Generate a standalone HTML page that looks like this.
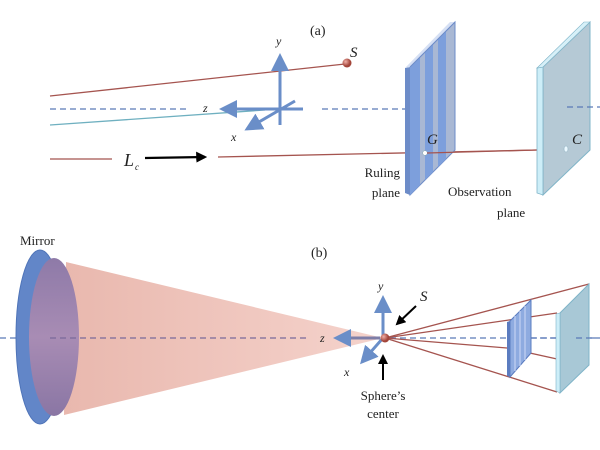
<!DOCTYPE html>
<html><head><meta charset="utf-8"><style>
html,body{margin:0;padding:0;background:#fff}
svg{display:block}
text{font-family:"Liberation Serif",serif;fill:#222}
</style></head><body>
<svg width="600" height="450" viewBox="0 0 600 450" xmlns="http://www.w3.org/2000/svg">
<defs>
<marker id="ba" markerWidth="6" markerHeight="6" refX="5" refY="3" orient="auto" markerUnits="strokeWidth"><path d="M0,0 L6,3 L0,6 Z" fill="#6a8ec8"/></marker>
<marker id="ka" markerWidth="5" markerHeight="5" refX="4" refY="2.5" orient="auto" markerUnits="strokeWidth"><path d="M0,0 L5,2.5 L0,5 Z" fill="#000"/></marker>
<linearGradient id="cone" x1="0" x2="1"><stop offset="0" stop-color="#e9b8ae"/><stop offset="1" stop-color="#f5d3cc"/></linearGradient>
<linearGradient id="inner" x1="0" y1="0" x2="0" y2="1"><stop offset="0" stop-color="#8e7aa8"/><stop offset="0.5" stop-color="#a88cb4"/><stop offset="1" stop-color="#8a76a4"/></linearGradient>
<radialGradient id="sph" cx="0.35" cy="0.35"><stop offset="0" stop-color="#f0b0a8"/><stop offset="1" stop-color="#a3453a"/></radialGradient>
</defs>
<!-- (a) -->
<text x="310" y="35" font-size="14">(a)</text>
<line x1="50" y1="96" x2="345" y2="64" stroke="#a5544f" stroke-width="1.3"/>
<circle cx="347" cy="63" r="4.5" fill="url(#sph)"/>
<text x="350" y="57" font-size="15" font-style="italic">S</text>
<line x1="50" y1="109" x2="187" y2="109" stroke="#5a7ab8" stroke-width="1.3" stroke-dasharray="6,4"/>
<line x1="322" y1="109" x2="405" y2="109" stroke="#5a7ab8" stroke-width="1.3" stroke-dasharray="6,4"/>
<line x1="50" y1="125" x2="265" y2="110" stroke="#6fb0c0" stroke-width="1.3"/>
<line x1="280" y1="125" x2="280" y2="56" stroke="#6a8ec8" stroke-width="3" marker-end="url(#ba)"/>
<line x1="303" y1="109" x2="222" y2="109" stroke="#6a8ec8" stroke-width="3" marker-end="url(#ba)"/>
<line x1="295" y1="101" x2="247" y2="129" stroke="#6a8ec8" stroke-width="3" marker-end="url(#ba)"/>
<text x="276" y="45" font-size="12" font-style="italic">y</text>
<text x="203" y="112" font-size="12" font-style="italic">z</text>
<text x="231" y="141" font-size="12" font-style="italic">x</text>
<line x1="50" y1="159" x2="112" y2="159" stroke="#a5544f" stroke-width="1.3"/>
<text x="124" y="166" font-size="18" font-style="italic">L</text><text x="135" y="170" font-size="9" font-style="italic">c</text>
<line x1="145" y1="158" x2="205" y2="157" stroke="#000" stroke-width="2.2" marker-end="url(#ka)"/>
<line x1="218" y1="157" x2="537" y2="150" stroke="#a5544f" stroke-width="1.3"/>
<!-- ruling plane -->
<polygon points="410,67 455,22 455,150 410,195" fill="#a9b8d4" stroke="#6d8cc8"/>
<g fill="#7d9fdc"><polygon points="410,67 420,57 420,185 410,195"/><polygon points="425,52 433,44 433,172 425,180"/><polygon points="438,39 446,31 446,159 438,167"/></g>
<polygon points="405,68 410,67 410,195 405,193" fill="#6d8cc8"/>
<polygon points="405,68 450,22 455,22 410,67" fill="#d6e0f4"/>
<line x1="410" y1="67" x2="455" y2="22" stroke="#6d8cc8"/>
<circle cx="425" cy="153" r="2.3" fill="#fff" stroke="#8aa" stroke-width=".5"/>
<line x1="427" y1="153" x2="537" y2="150" stroke="#a5544f" stroke-width="1.3"/>
<text x="427" y="144" font-size="15" font-style="italic">G</text>
<text x="400" y="177" font-size="13" text-anchor="end">Ruling</text>
<text x="400" y="197" font-size="13" text-anchor="end">plane</text>
<!-- observation plane -->
<polygon points="543,67 590,22 590,150 543,195" fill="#b5c9d5" stroke="#7fb4c8"/>
<polygon points="537,68 543,67 543,195 537,193" fill="#cdeef8" stroke="#7fb4c8" stroke-width=".8"/>
<polygon points="537,68 584,22 590,22 543,67" fill="#d7f0f8" stroke="#7fb4c8" stroke-width=".6"/>
<line x1="567" y1="107" x2="600" y2="107" stroke="#5a7ab8" stroke-width="1.3" stroke-dasharray="6,4"/>
<ellipse cx="566" cy="149" rx="2" ry="3" fill="#eaf8ff" stroke="#8ab" stroke-width=".5"/>
<text x="572" y="144" font-size="15" font-style="italic">C</text>
<text x="448" y="196" font-size="13">Observation</text>
<text x="497" y="217" font-size="13">plane</text>
<!-- (b) -->
<text x="311" y="257" font-size="14">(b)</text>
<text x="20" y="245" font-size="13">Mirror</text>
<line x1="0" y1="338" x2="600" y2="338" stroke="#5a7ab8" stroke-width="1.3" stroke-dasharray="6,4"/>
<ellipse cx="40" cy="337" rx="24" ry="87" fill="#6286c8" stroke="#4f74b8" stroke-width="1"/>
<polygon points="66,262 383,338 64,415" fill="url(#cone)"/>
<ellipse cx="54" cy="337" rx="25" ry="79" fill="url(#inner)"/>
<line x1="50" y1="338" x2="310" y2="338" stroke="#7a6a9a" stroke-width="1.3" stroke-dasharray="6,4"/>
<line x1="380" y1="338" x2="336" y2="338" stroke="#7e7ea8" stroke-width="3" marker-end="url(#ba)"/>
<text x="320" y="342" font-size="12" font-style="italic">z</text>
<line x1="383" y1="338" x2="383" y2="298" stroke="#6a8ec8" stroke-width="3" marker-end="url(#ba)"/>
<text x="378" y="290" font-size="12" font-style="italic">y</text>
<line x1="383" y1="338" x2="362" y2="362" stroke="#6a8ec8" stroke-width="3" marker-end="url(#ba)"/>
<text x="344" y="376" font-size="12" font-style="italic">x</text>
<g stroke="#a5544f" stroke-width="1.3" fill="none">
<line x1="385" y1="338" x2="589" y2="284"/>
<line x1="385" y1="338" x2="557" y2="313"/>
<line x1="385" y1="338" x2="507" y2="348"/><line x1="507" y1="348" x2="557" y2="359"/>
<line x1="385" y1="338" x2="557" y2="392"/>
</g>
<circle cx="385" cy="338" r="4.5" fill="url(#sph)"/>
<line x1="416" y1="306" x2="397" y2="324" stroke="#000" stroke-width="2" marker-end="url(#ka)"/>
<text x="420" y="301" font-size="15" font-style="italic">S</text>
<line x1="383" y1="380" x2="383" y2="356" stroke="#000" stroke-width="2" marker-end="url(#ka)"/>
<text x="383" y="400" font-size="13" text-anchor="middle">Sphere’s</text>
<text x="383" y="418" font-size="13" text-anchor="middle">center</text>
<!-- small grating -->
<polygon points="510,321 531,300 531,353 510,377" fill="#8eabe0" stroke="#5b7cc0"/>
<polygon points="507,322 510,321 510,377 507,376" fill="#5b7cc0"/>
<g stroke="#c3d2f2" stroke-width="1.2"><line x1="515" y1="316" x2="515" y2="371"/><line x1="520" y1="311" x2="520" y2="366"/><line x1="525" y1="306" x2="525" y2="360"/></g>
<polygon points="560,313 589,284 589,365 560,393" fill="#a8c8d6" stroke="#7fb4c8"/>
<polygon points="556,314 560,313 560,393 556,391" fill="#cdeef8" stroke="#7fb4c8" stroke-width=".6"/>
<line x1="531" y1="338" x2="556" y2="338" stroke="#5a7ab8" stroke-width="1.3" stroke-dasharray="6,4"/>
<line x1="576" y1="338" x2="600" y2="338" stroke="#5a7ab8" stroke-width="1.3" stroke-dasharray="6,4"/>
</svg>
</body></html>
